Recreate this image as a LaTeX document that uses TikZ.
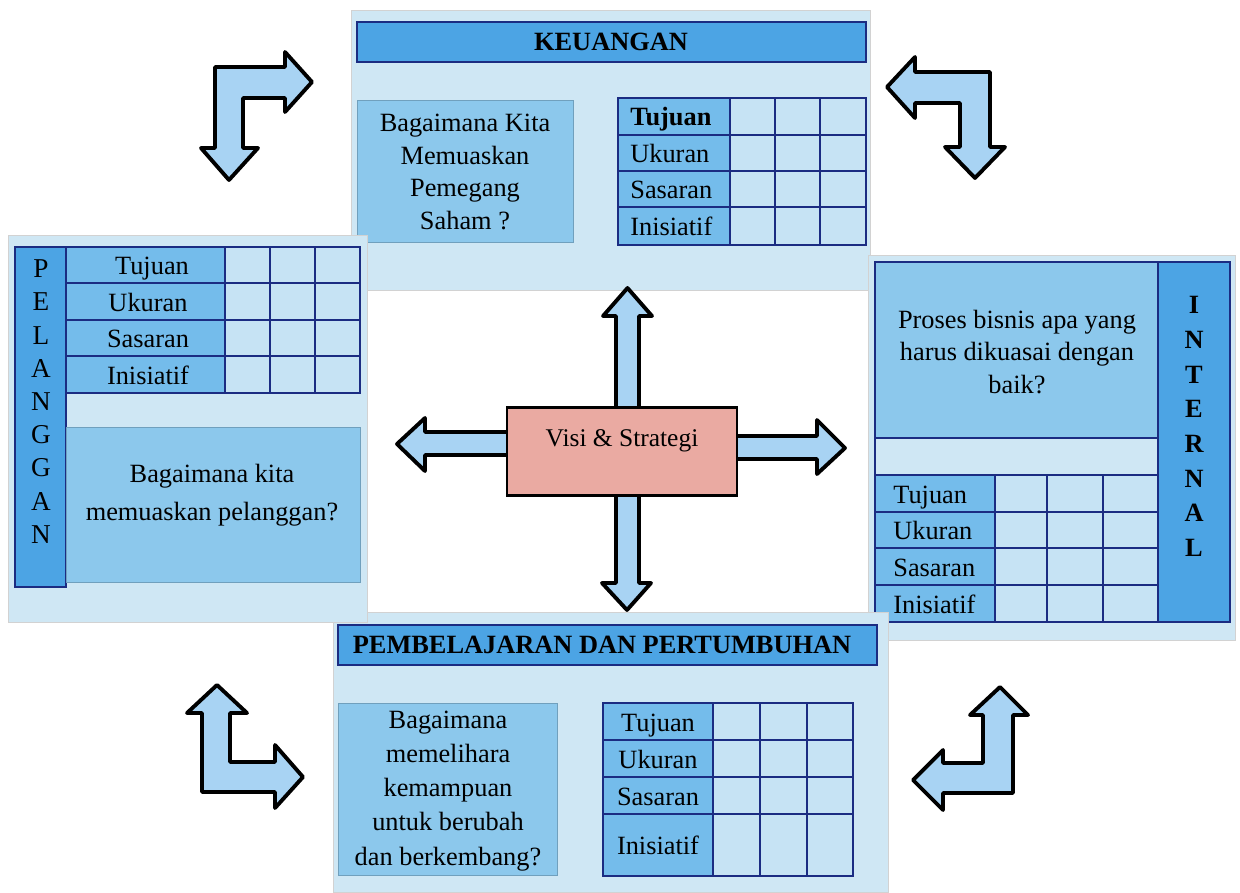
\documentclass[tikz,border=0pt]{standalone}
\usepackage{fontspec}
\setmainfont{Liberation Serif}
\definecolor{panelbg}{HTML}{CFE7F4}
\definecolor{hdrblue}{HTML}{4CA4E4}
\definecolor{qblue}{HTML}{8CC8EC}
\definecolor{lblblue}{HTML}{74BCEB}
\definecolor{cellblue}{HTML}{C6E3F4}
\definecolor{navy}{HTML}{1B2C82}
\definecolor{pinkbox}{HTML}{EAAAA2}
\definecolor{arrowblue}{HTML}{A8D3F3}
\tikzset{
  panel/.style={fill=panelbg, draw=gray!35, line width=0.4pt},
  hdr/.style={fill=hdrblue, draw=navy, line width=1.1pt},
  qbox/.style={fill=qblue, draw=qblue!80!black, line width=0.3pt},
  grid/.style={draw=navy, line width=1.1pt},
  blockarrow/.style={fill=arrowblue, draw=black, line width=2.2pt, line join=round},
  txt/.style={align=center, inner sep=0pt},
  lbl/.style={inner sep=0pt, font=\fontsize{15}{18}\selectfont},
}
\begin{document}
\begin{tikzpicture}[x=0.02cm, y=-0.02cm]
\useasboundingbox (0,0) rectangle (1240,892);
\fill[white] (0,0) rectangle (1240,892);

% ---------- KEUANGAN ----------
\draw[panel] (351,10) rectangle (870,290);
\draw[hdr] (357,22) rectangle (866,62);
\node[txt, font=\fontsize{15}{18}\selectfont\bfseries] (hkeu) at (611,42) {KEUANGAN};
\draw[qbox] (357,100) rectangle (573,242);
\node[txt, font=\fontsize{15}{18.7}\selectfont] (qkeu) at (465,172) {Bagaimana Kita\\Memuaskan\\Pemegang\\Saham ?};
\fill[lblblue] (618,98) rectangle (730,245);
\fill[cellblue] (730,98) rectangle (866,245);
\draw[grid] (618,98) rectangle (866,245);
\foreach \y in {135,171,207} \draw[grid] (618,\y) -- (866,\y);
\foreach \x in {730,775,820} \draw[grid] (\x,98) -- (\x,245);
\node[lbl, anchor=base west] (k1) at (630,126) {\textbf{Tujuan}};
\node[lbl, anchor=base west] (k2) at (630,162.5) {Ukuran};
\node[lbl, anchor=base west] (k3) at (630,198.5) {Sasaran};
\node[lbl, anchor=base west] (k4) at (630,235.5) {Inisiatif};

% ---------- INTERNAL ----------
\draw[panel] (868,255) rectangle (1235,640);
\fill[qblue] (875,262) rectangle (1158,438);
\fill[panelbg] (875,438) rectangle (1158,475);
\fill[hdrblue] (1158,262) rectangle (1230,622);
\fill[lblblue] (875,475) rectangle (995,622);
\fill[cellblue] (995,475) rectangle (1158,622);
\draw[grid] (875,262) rectangle (1230,622);
\draw[grid] (1158,262) -- (1158,622);
\draw[grid] (875,438) -- (1158,438);
\foreach \y in {475,512,548,585} \draw[grid] (875,\y) -- (1158,\y);
\foreach \x in {995,1047,1103} \draw[grid] (\x,475) -- (\x,622);
\node[txt, font=\fontsize{15}{18.6}\selectfont] (qint) at (1017,352) {Proses bisnis apa yang\\harus dikuasai dengan\\baik?};
\node[txt, font=\fontsize{15}{19.7}\selectfont\bfseries] (vint) at (1194,426.5) {I\\N\\T\\E\\R\\N\\A\\L};
\node[lbl, anchor=base west] (i1) at (893,503) {Tujuan};
\node[lbl, anchor=base west] (i2) at (893,539.5) {Ukuran};
\node[lbl, anchor=base west] (i3) at (893,576) {Sasaran};
\node[lbl, anchor=base west] (i4) at (893,613) {Inisiatif};

% ---------- PEMBELAJARAN ----------
\draw[panel] (333,612) rectangle (888,892);
\draw[hdr] (338,625) rectangle (877,665);
\node[txt, font=\fontsize{15}{18}\selectfont\bfseries] (hpem) at (602,645) {PEMBELAJARAN DAN PERTUMBUHAN};
\draw[qbox] (338,703) rectangle (557,875);
\node[txt, font=\fontsize{15}{19.4}\selectfont] (qpem) at (448,791) {Bagaimana\\memelihara\\kemampuan\\untuk berubah\\dan berkembang?};
\fill[lblblue] (603,703) rectangle (713,876);
\fill[cellblue] (713,703) rectangle (853,876);
\draw[grid] (603,703) rectangle (853,876);
\foreach \y in {740,777,814} \draw[grid] (603,\y) -- (853,\y);
\foreach \x in {713,760,807} \draw[grid] (\x,703) -- (\x,876);
\node[lbl, anchor=base] (p1) at (658,731) {Tujuan};
\node[lbl, anchor=base] (p2) at (658,768) {Ukuran};
\node[lbl, anchor=base] (p3) at (658,805) {Sasaran};
\node[lbl, anchor=base] (p4) at (658,854.5) {Inisiatif};

% ---------- PELANGGAN ----------
\draw[panel] (8,235) rectangle (367,622);
\fill[hdrblue] (15,247) rectangle (66,587);
\draw[grid] (15,247) rectangle (66,587);
\draw[qbox] (66,427) rectangle (360,582);
\fill[lblblue] (66,247) rectangle (225,393);
\fill[cellblue] (225,247) rectangle (360,393);
\draw[grid] (66,247) rectangle (360,393);
\foreach \y in {283,320,356} \draw[grid] (66,\y) -- (360,\y);
\foreach \x in {225,270,315} \draw[grid] (\x,247) -- (\x,393);
\node[lbl, anchor=base] (c1) at (152,274.5) {Tujuan};
\node[lbl, anchor=base] (c2) at (148,311) {Ukuran};
\node[lbl, anchor=base] (c3) at (148,347.5) {Sasaran};
\node[lbl, anchor=base] (c4) at (148,384) {Inisiatif};
\node[txt, font=\fontsize{15.5}{18.9}\selectfont] (vpel) at (41,401.5) {P\\E\\L\\A\\N\\G\\G\\A\\N};
\node[txt, font=\fontsize{15}{21.5}\selectfont] (qpel) at (212,495) {Bagaimana kita\\memuaskan pelanggan?};

% ---------- CENTER ARROWS ----------
\draw[blockarrow] (616,410) -- (616,316) -- (603,316) -- (627.5,288) -- (652,316) -- (639,316) -- (639,410) -- cycle;
\draw[blockarrow] (616,492) -- (616,583) -- (602,583) -- (627,610) -- (651,583) -- (639,583) -- (639,492) -- cycle;
\draw[blockarrow] (510,432) -- (425,432) -- (425,418) -- (397,444) -- (425,471) -- (425,455) -- (510,455) -- cycle;
\draw[blockarrow] (734,436) -- (817,436) -- (817,420) -- (845,448) -- (817,474) -- (817,459) -- (734,459) -- cycle;

\node[draw=black, line width=1.6pt, fill=pinkbox, minimum width=4.6cm, minimum height=1.76cm, inner sep=0pt] (visi) at (622,451.5) {};
\node[txt, font=\fontsize{14.5}{18}\selectfont] (visitxt) at (622,441) {Visi \& Strategi};

% ---------- CORNER ARROWS ----------
\draw[blockarrow] (215,67) -- (285,67) -- (285,52) -- (312,82) -- (285,112) -- (285,98) -- (243,98) -- (243,148) -- (258,148) -- (229,180) -- (201,148) -- (215,148) -- cycle;
\draw[blockarrow] (887,87) -- (915,57) -- (915,72) -- (990,72) -- (990,147) -- (1005,147) -- (975,178) -- (945,147) -- (960,147) -- (960,103) -- (915,103) -- (915,118) -- cycle;
\draw[blockarrow] (217,685) -- (247,713) -- (230,713) -- (230,762) -- (275,762) -- (275,745) -- (303,777) -- (275,808) -- (275,792) -- (202,792) -- (202,713) -- (187,713) -- cycle;
\draw[blockarrow] (1000,687) -- (1028,715) -- (1013,715) -- (1013,793) -- (943,793) -- (943,810) -- (913,780) -- (943,750) -- (943,763) -- (983,763) -- (983,715) -- (970,715) -- cycle;
\end{tikzpicture}
\end{document}
